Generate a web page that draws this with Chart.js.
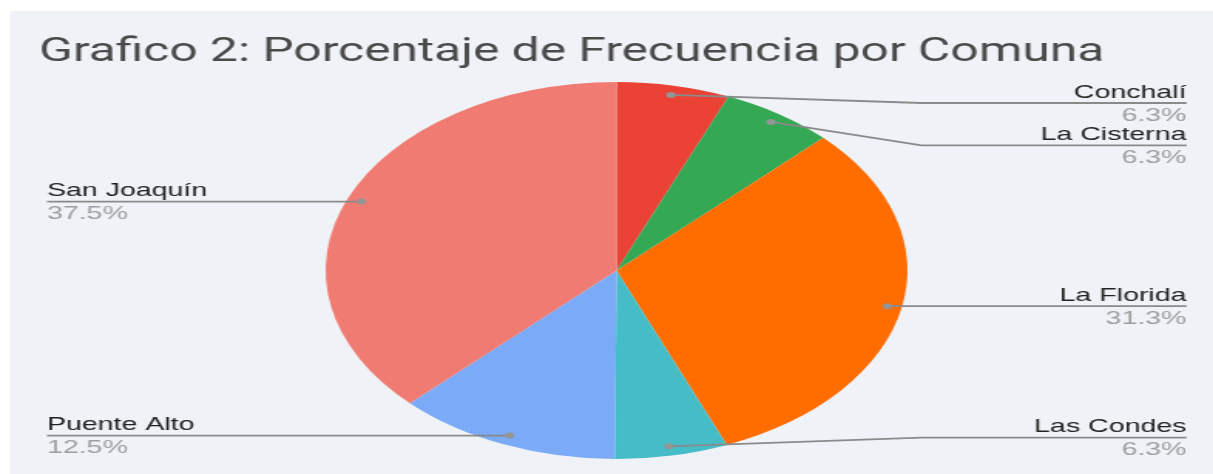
<!DOCTYPE html>
<html lang="es">
<head>
<meta charset="UTF-8">
<title>Grafico 2: Porcentaje de Frecuencia por Comuna</title>
<script src="https://cdn.jsdelivr.net/npm/chart.js"></script>
<style>
  html, body { margin: 0; padding: 0; background: #fff; overflow: hidden; }
  #panel {
    position: absolute; left: 10px; top: 11px;
    width: 1203px; height: 463px;
    background: #eff2f7;
  }
  /* the original picture is stretched sideways, so draw narrow and stretch */
  #wrap {
    position: absolute; left: 0; top: 0;
    width: 786px; height: 474px;
    transform: scaleX(1.5433);
    transform-origin: 0 0;
  }
</style>
</head>
<body>
<div id="panel"></div>
<div id="wrap">
  <canvas id="chart" width="786" height="474" style="width:786px;height:474px"></canvas>
</div>

<script>
const titleText = 'Grafico 2: Porcentaje de Frecuencia por Comuna';
const comunas = ['Conchalí', 'La Cisterna', 'La Florida', 'Las Condes', 'Puente Alto', 'San Joaquín'];
const porcentajes = [6.3, 6.3, 31.3, 6.3, 12.5, 37.5];
const colores = ['#ea4335', '#34a853', '#ff6d01', '#46bdc6', '#7baaf7', '#f07b72'];

// labels with leader lines, placed from the arcs Chart.js laid out
const leaderLabels = {
    id: 'leaderLabels',
    afterDatasetsDraw(chart) {
        const ctx = chart.ctx;
        const meta = chart.getDatasetMeta(0);
        const gap = 42.3, top = 103, bottom = 437.7;
        const leftX = 30.4, rightX = 768.8;

        const items = meta.data.map((arc, i) => {
            const p = arc.getProps(['x', 'y', 'startAngle', 'endAngle', 'outerRadius'], true);
            const mid = (p.startAngle + p.endAngle) / 2;
            const r = p.outerRadius * 0.95;
            const dx = p.x + Math.cos(mid) * r;
            const dy = p.y + Math.sin(mid) * r;
            return { i, cx: p.x, R: p.outerRadius, dx, dy, ly: dy, right: dx >= p.x };
        });

        [true, false].forEach(side => {
            const list = items.filter(it => it.right === side).sort((a, b) => a.dy - b.dy);
            for (let k = 0; k < list.length; k++) {
                let y = Math.max(list[k].ly, top);
                if (k > 0) y = Math.max(y, list[k - 1].ly + gap);
                list[k].ly = y;
            }
            for (let k = list.length - 1; k >= 0; k--) {
                let y = Math.min(list[k].ly, bottom);
                if (k < list.length - 1) y = Math.min(y, list[k + 1].ly - gap);
                list[k].ly = y;
            }
        });

        ctx.save();
        items.forEach(it => {
            const elbowX = it.right ? it.cx + it.R + 9 : it.cx - it.R - 9;
            const endX = it.right ? rightX : leftX;

            ctx.strokeStyle = '#8a8a8a';
            ctx.lineWidth = 1.8;
            ctx.beginPath();
            ctx.moveTo(it.dx, it.dy);
            ctx.lineTo(elbowX, it.ly);
            ctx.lineTo(endX, it.ly);
            ctx.stroke();

            ctx.fillStyle = '#959595';
            ctx.beginPath();
            ctx.arc(it.dx, it.dy, 3, 0, Math.PI * 2);
            ctx.fill();

            ctx.textAlign = it.right ? 'right' : 'left';
            ctx.textBaseline = 'alphabetic';
            ctx.font = '18.5px "Liberation Sans", Arial, sans-serif';
            ctx.fillStyle = '#222222';
            ctx.fillText(comunas[it.i], endX, it.ly - 5.5);
            ctx.fillStyle = '#9e9e9e';
            ctx.fillText(porcentajes[it.i].toFixed(1) + '%', endX, it.ly + 17.5);
        });
        ctx.restore();

        // title, a touch narrower than plain Roboto
        ctx.save();
        ctx.translate(25.3, 61);
        ctx.scale(0.947, 1);
        ctx.textAlign = 'left';
        ctx.textBaseline = 'alphabetic';
        ctx.font = '34px Roboto, sans-serif';
        ctx.fillStyle = '#4a4a4a';
        ctx.fillText(titleText, 0, 0);
        ctx.restore();
    }
};

new Chart(document.getElementById('chart'), {
    type: 'pie',
    data: {
        labels: comunas,
        datasets: [{
            data: porcentajes,
            backgroundColor: colores,
            borderWidth: 0
        }]
    },
    options: {
        responsive: false,
        devicePixelRatio: 1,
        animation: false,
        layout: {
            padding: { top: 82, bottom: 15, left: 211, right: 198 }
        },
        plugins: {
            legend: { display: false },
            tooltip: { enabled: false },
            title: { display: false }
        }
    },
    plugins: [leaderLabels]
});
</script>
</body>
</html>
